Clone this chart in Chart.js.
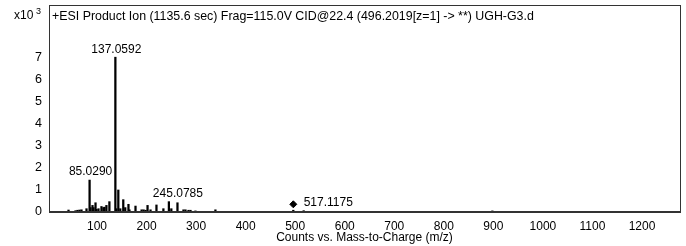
<!DOCTYPE html>
<html>
<head>
<meta charset="utf-8">
<script src="https://cdn.jsdelivr.net/npm/chart.js@4"></script>
<style>
    body { margin: 0; background: #fff; }
    #wrap { width: 686px; height: 246px; }
</style>
</head>
<body>
<div id="wrap"><canvas id="msChart" width="686" height="246"></canvas></div>
<script>
// Spectrum data (m/z, counts x10^3)
const peakMz = [42.5, 56.6, 60.6, 64.7, 68.7, 78.8, 85.029, 86.9, 90.9, 92.9, 97, 99, 103, 109, 113, 115, 119, 125,
    137.0592, 139, 143, 147, 153, 157, 163.5, 165.5, 177.7, 190, 194, 198, 202, 208, 220, 234, 245.0785, 250, 262.4,
    274.5, 278.6, 284.6, 288.7, 298.7, 339, 496.2, 517.1175, 898];
const peakCounts = [0.09, 0.06, 0.08, 0.09, 0.1, 0.15, 1.45, 0.2, 0.3, 0.2, 0.42, 0.12, 0.15, 0.25, 0.2, 0.22, 0.3, 0.47,
    7.03, 0.15, 1.0, 0.15, 0.56, 0.2, 0.35, 0.1, 0.27, 0.1, 0.1, 0.08, 0.3, 0.1, 0.32, 0.15, 0.47, 0.15, 0.42,
    0.1, 0.1, 0.08, 0.08, 0.05, 0.1, 0.08, 0.06, 0.05];

// Precursor marker
const precursorMz = [496.2019];
const precursorCounts = [0.35];

// Peak labels
const labelMz = [137.0592, 85.029, 245.0785, 517.1175];
const labelCounts = [7.03, 1.45, 0.47, 0.06];
const labelText = ['137.0592', '85.0290', '245.0785', '517.1175'];

// Axis ticks
const xTicks = [100, 200, 300, 400, 500, 600, 700, 800, 900, 1000, 1100, 1200];
const yTicks = [0, 1, 2, 3, 4, 5, 6, 7];

const titleText = '+ESI Product Ion (1135.6 sec) Frag=115.0V CID@22.4 (496.2019[z=1] -> **) UGH-G3.d';
const xTitle = 'Counts vs. Mass-to-Charge (m/z)';

const FONT = 'Liberation Sans, Arial, sans-serif';

Chart.defaults.font.family = FONT;
Chart.defaults.font.size = 12;
Chart.defaults.color = '#000';

// Frame, title, peak labels
const decorPlugin = {
    id: 'decor',
    afterDraw(chart) {
        const { ctx, chartArea: a, scales } = chart;
        ctx.save();
        ctx.strokeStyle = '#333';
        ctx.lineWidth = 1;
        ctx.strokeRect(a.left + 0.5, a.top + 0.5, a.right - a.left, a.bottom - a.top);
        ctx.lineWidth = 2;
        ctx.beginPath();
        ctx.moveTo(a.left, a.bottom);
        ctx.lineTo(a.right + 1, a.bottom);
        ctx.stroke();

        ctx.fillStyle = '#000';
        ctx.font = '12.4px ' + FONT;
        ctx.textBaseline = 'middle';
        ctx.textAlign = 'left';
        ctx.fillText(titleText, a.left + 3, 17);
        ctx.font = '12px ' + FONT;
        ctx.fillText('x10', 14, 16);
        ctx.font = '9px ' + FONT;
        ctx.fillText('3', 36, 12);

        ctx.font = '12px ' + FONT;
        ctx.textAlign = 'center';
        ctx.fillText(xTitle, (a.left + a.right) / 2, 238);

        // peak labels
        ctx.textBaseline = 'bottom';
        labelMz.forEach((m, i) => {
            let px = scales.x.getPixelForValue(m);
            const py = scales.y.getPixelForValue(labelCounts[i]);
            if (i === 3) {
                ctx.textAlign = 'left';
                ctx.textBaseline = 'middle';
                ctx.fillText(labelText[i], px, py - 8);
                return;
            }
            ctx.textAlign = 'center';
            if (i === 2) px += 8;
            ctx.fillText(labelText[i], px + 1, py - 2);
        });
        ctx.restore();
    }
};

new Chart(document.getElementById('msChart'), {
    data: {
        datasets: [
            {
                type: 'bar',
                data: peakMz.map((m, i) => ({ x: m, y: peakCounts[i] })),
                backgroundColor: '#000',
                barThickness: 1.6,
                grouped: false
            },
            {
                type: 'scatter',
                data: precursorMz.map((m, i) => ({ x: m, y: precursorCounts[i] })),
                pointStyle: 'rectRot',
                pointRadius: 3.5,
                backgroundColor: '#000',
                borderColor: '#000'
            }
        ]
    },
    options: {
        responsive: false,
        animation: false,
        layout: { padding: { top: 4, right: 6, left: 0, bottom: 0 } },
        plugins: {
            legend: { display: false },
            tooltip: { enabled: false }
        },
        scales: {
            x: {
                type: 'linear',
                offset: false,
                min: 3.1,
                max: 1276.7,
                grid: { display: false, drawTicks: false, offset: false },
                border: { display: false },
                ticks: { padding: 7, maxRotation: 0, autoSkip: false, callback: v => String(v) },
                afterBuildTicks: s => { s.ticks = xTicks.map(v => ({ value: v })); },
                afterFit: s => { s.height = 34; s.paddingLeft = 0; s.paddingRight = 0; }
            },
            y: {
                min: 0,
                max: 9.4,
                grid: { display: false, drawTicks: false },
                border: { display: false },
                ticks: { padding: 7, autoSkip: false, font: { size: 12.5 } },
                afterBuildTicks: s => { s.ticks = yTicks.map(v => ({ value: v })); },
                afterFit: s => { s.width = 49; s.paddingTop = 0; s.paddingBottom = 0; }
            }
        }
    },
    plugins: [decorPlugin]
});
</script>
</body>
</html>
